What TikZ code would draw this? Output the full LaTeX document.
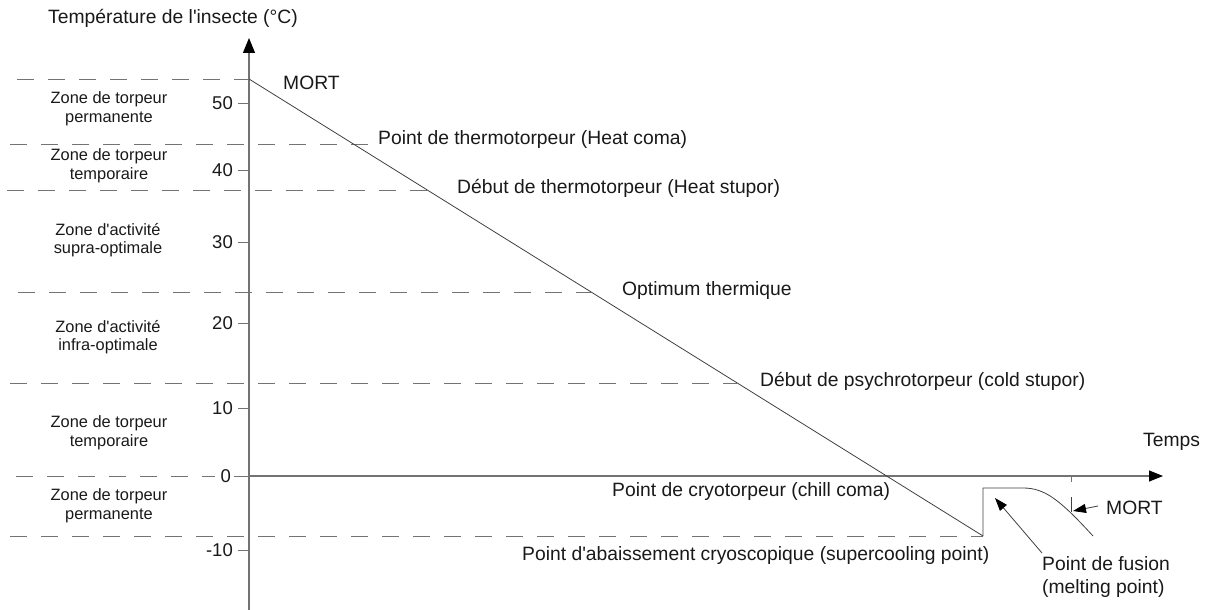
\documentclass[tikz,border=0pt]{standalone}
\usepackage{fontspec}
\setmainfont{Liberation Sans}[Ligatures=TeXOff]
\usetikzlibrary{arrows.meta}
\begin{document}
\begin{tikzpicture}[x=1pt,y=-1pt,
  lbl/.style={font=\fontsize{19.3}{22.5}\selectfont, inner sep=0pt, anchor=west, text=black!90},
  zone/.style={font=\fontsize{16.4}{18.5}\selectfont, inner sep=0pt, align=center, text=black!90},
  ticklbl/.style={font=\fontsize{18.5}{20}\selectfont, inner sep=0pt, anchor=east, text=black!90},
  dashln/.style={draw=black!55, dash pattern=on 17pt off 14pt, line width=0.9pt},
  axisln/.style={draw=black!55, line width=1.1pt},
  tickln/.style={draw=black!55, line width=0.9pt},
  curveln/.style={draw=black!75, line width=0.8pt},
  ptr/.style={draw=black!75, line width=0.8pt, -{Triangle[length=13pt,width=9pt,color=black]}},
]
\useasboundingbox (0,0) rectangle (1205,610);

% key points
\coordinate (O) at (249,476);
\coordinate (ytop) at (249,38);
\coordinate (ybot) at (249,612);
\coordinate (xend) at (1163,476);
\coordinate (mortpt) at (249,79);
\coordinate (scp) at (983,536);
\coordinate (stepTop) at (983,488);
\coordinate (flatEnd) at (1023,488);
\coordinate (curveEnd) at (1093,536);
\coordinate (deathTop) at (1071,497);
\coordinate (deathBot) at (1071,512);
\coordinate (deathTip) at (1073,511);
\coordinate (meltTip) at (995,498);

% dashed level lines
\draw[dashln] (17,79) -- (mortpt);
\draw[dashln] (10,144) -- (368,144);
\draw[dashln] (7,190) -- (428,190);
\draw[dashln] (18,292) -- (591,292);
\draw[dashln] (10,383) -- (737,383);
\draw[dashln] (16,476) -- (215,476);
\draw[dashln] (10,536) -- (scp);

% axes
\draw[axisln,-{Triangle[length=15pt,width=12pt,color=black]}] (ybot) -- (ytop);
\draw[axisln,-{Triangle[length=14pt,width=11pt,color=black]}] (O) -- (xend);

% ticks
\foreach \yy/\tl in {103/50,170/40,242/30,323/20,408/10,550/-10}{
  \draw[tickln] (238,\yy) -- (249,\yy);
  \node[ticklbl] (t\tl) at (233,\yy) {\tl};
}
\draw[tickln] (234,476) -- (249,476);
\node[ticklbl] (t0) at (231,476) {0};
\draw[tickln] (1071,476) -- (1071,482);

% temperature curve
\draw[curveln] (mortpt) -- (scp);
\draw[curveln] (scp) -- (stepTop) -- (flatEnd) .. controls (1045,488) and (1060,500) .. (curveEnd);
\draw[curveln] (deathTop) -- (deathBot);

% labels
\node[lbl, anchor=center] (ytitle) at (173,18) {Température de l'insecte (°C)};
\node[lbl] (mort1) at (283,83) {MORT};
\node[lbl] (hcoma) at (378,140) {Point de thermotorpeur (Heat coma)};
\node[lbl] (hstup) at (457,188) {Début de thermotorpeur (Heat stupor)};
\node[lbl] (opt) at (622,291) {Optimum thermique};
\node[lbl] (cstup) at (760,381) {Début de psychrotorpeur (cold stupor)};
\node[lbl] (temps) at (1143,442) {Temps};
\node[lbl] (ccoma) at (612,492) {Point de cryotorpeur (chill coma)};
\node[lbl] (supc) at (522,556) {Point d'abaissement cryoscopique (supercooling point)};
\node[lbl, align=left] (fusion) at (1042,577) {Point de fusion\\(melting point)};
\node[lbl] (mort2) at (1106,508) {MORT};

% pointers
\draw[ptr] (1098,506) -- (deathTip);
\draw[ptr] (1042,553) -- (meltTip);

% zones
\node[zone] (z1) at (109,109) {Zone de torpeur\\permanente};
\node[zone] (z2) at (109,166) {Zone de torpeur\\temporaire};
\node[zone] (z3) at (108,240) {Zone d'activité\\supra-optimale};
\node[zone] (z4) at (108,337) {Zone d'activité\\infra-optimale};
\node[zone] (z5) at (109,433) {Zone de torpeur\\temporaire};
\node[zone] (z6) at (109,506) {Zone de torpeur\\permanente};
\end{tikzpicture}
\end{document}
